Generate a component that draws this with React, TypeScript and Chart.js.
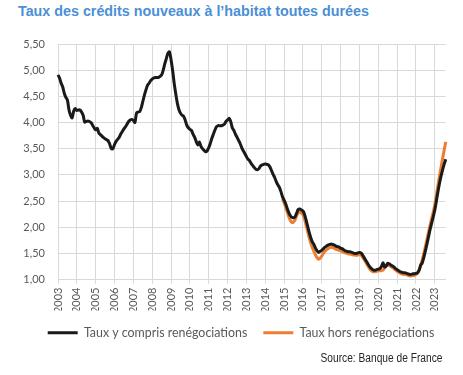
import { useEffect, useRef } from 'react';
import { Chart, registerables } from 'chart.js';

Chart.register(...registerables);

// Tick labels (one per January)
const years = [
  2003, 2004, 2005, 2006, 2007, 2008, 2009, 2010, 2011, 2012,
  2013, 2014, 2015, 2016, 2017, 2018, 2019, 2020, 2021, 2022, 2023,
];

// Taux y compris renégociations, monthly, Jan 2003 – Aug 2023 (%)
const tauxYCompris = [
  4.91, 4.85, 4.75, 4.68, 4.56, 4.48, 4.43, 4.24, 4.14, 4.09, 4.22, 4.27, // 2003
  4.23, 4.24, 4.24, 4.20, 4.14, 4.01, 4.02, 4.03, 4.02, 4.00, 3.95, 3.90, // 2004
  3.86, 3.89, 3.80, 3.77, 3.74, 3.71, 3.69, 3.67, 3.65, 3.58, 3.50, 3.50, // 2005
  3.58, 3.64, 3.68, 3.72, 3.78, 3.83, 3.88, 3.92, 3.97, 4.02, 4.05, 4.06, // 2006
  4.04, 4.00, 4.18, 4.20, 4.21, 4.28, 4.40, 4.52, 4.62, 4.71, 4.75, 4.80, // 2007
  4.83, 4.85, 4.86, 4.86, 4.86, 4.88, 4.91, 5.00, 5.12, 5.22, 5.32, 5.35, // 2008
  5.20, 5.00, 4.75, 4.55, 4.37, 4.25, 4.18, 4.14, 4.12, 4.05, 3.95, 3.90, // 2009
  3.87, 3.85, 3.78, 3.72, 3.64, 3.57, 3.63, 3.55, 3.50, 3.47, 3.44, 3.46, // 2010
  3.52, 3.60, 3.70, 3.78, 3.86, 3.92, 3.94, 3.94, 3.94, 3.95, 3.97, 4.02, // 2011
  4.05, 4.08, 4.02, 3.90, 3.85, 3.78, 3.72, 3.66, 3.60, 3.52, 3.46, 3.41, // 2012
  3.35, 3.30, 3.27, 3.22, 3.18, 3.14, 3.11, 3.10, 3.12, 3.17, 3.19, 3.20, // 2013
  3.21, 3.20, 3.19, 3.15, 3.08, 3.01, 2.95, 2.87, 2.81, 2.76, 2.68, 2.58, // 2014
  2.52, 2.45, 2.36, 2.28, 2.22, 2.19, 2.18, 2.20, 2.27, 2.34, 2.35, 2.33, // 2015
  2.31, 2.25, 2.14, 2.02, 1.90, 1.80, 1.72, 1.67, 1.60, 1.55, 1.52, 1.54, // 2016
  1.56, 1.59, 1.62, 1.64, 1.66, 1.67, 1.68, 1.67, 1.66, 1.64, 1.63, 1.62, // 2017
  1.60, 1.59, 1.57, 1.55, 1.54, 1.53, 1.53, 1.52, 1.51, 1.50, 1.50, 1.51, // 2018
  1.52, 1.51, 1.47, 1.42, 1.37, 1.32, 1.27, 1.23, 1.20, 1.18, 1.18, 1.19, // 2019
  1.20, 1.21, 1.25, 1.32, 1.24, 1.26, 1.31, 1.30, 1.28, 1.26, 1.24, 1.21, // 2020
  1.19, 1.17, 1.15, 1.14, 1.13, 1.13, 1.12, 1.11, 1.10, 1.10, 1.11, 1.11, // 2021
  1.12, 1.13, 1.18, 1.27, 1.32, 1.42, 1.55, 1.68, 1.82, 1.96, 2.08, 2.20, // 2022
  2.33, 2.50, 2.68, 2.84, 2.98, 3.10, 3.21, 3.30, // 2023
];

// Taux hors renégociations, monthly, Dec 2014 – Aug 2023 (%)
const horsStartIndex = 143;
const tauxHors = [
  2.54, // Dec 2014
  2.47, 2.38, 2.29, 2.20, 2.13, 2.09, 2.10, 2.14, 2.22, 2.28, 2.29, 2.27, // 2015
  2.24, 2.16, 2.04, 1.92, 1.80, 1.70, 1.61, 1.54, 1.47, 1.42, 1.39, 1.41, // 2016
  1.45, 1.50, 1.54, 1.57, 1.59, 1.61, 1.62, 1.61, 1.60, 1.58, 1.57, 1.56, // 2017
  1.55, 1.54, 1.52, 1.51, 1.50, 1.49, 1.49, 1.48, 1.47, 1.47, 1.46, 1.47, // 2018
  1.48, 1.47, 1.43, 1.38, 1.33, 1.28, 1.23, 1.19, 1.16, 1.15, 1.15, 1.16, // 2019
  1.17, 1.17, 1.17, 1.18, 1.22, 1.26, 1.28, 1.27, 1.25, 1.23, 1.21, 1.18, // 2020
  1.16, 1.14, 1.12, 1.11, 1.10, 1.10, 1.09, 1.08, 1.07, 1.07, 1.08, 1.08, // 2021
  1.10, 1.12, 1.18, 1.28, 1.38, 1.50, 1.63, 1.77, 1.91, 2.04, 2.17, 2.29, // 2022
  2.43, 2.61, 2.80, 2.98, 3.15, 3.32, 3.48, 3.63, // 2023
];

const seriesNames = ['Taux y compris renégociations', 'Taux hors renégociations'];
const seriesColors = ['#1a1a1a', '#ED7D31'];

const monthLabels = tauxYCompris.map(
  (_, i) => `${years[0] + Math.floor(i / 12)}-${String((i % 12) + 1).padStart(2, '0')}`
);
const horsData = monthLabels.map((_, i) =>
  i >= horsStartIndex ? tauxHors[i - horsStartIndex] : null
);

const GRID = '#d9d9d9';
const TEXT = '#595959';

const legendShift = {
  id: 'legendShift',
  afterLayout(chart: any) {
    const lg = chart.legend;
    if (lg) {
      lg.left += 14;
      lg.right += 14;
    }
  },
};

export default function App() {
  const ref = useRef<HTMLCanvasElement | null>(null);

  useEffect(() => {
    if (!ref.current) return;
    const chart = new Chart(ref.current, {
      type: 'line',
      data: {
        labels: monthLabels,
        datasets: [
          {
            label: seriesNames[0],
            data: tauxYCompris,
            borderColor: seriesColors[0],
            backgroundColor: seriesColors[0],
            borderWidth: 3,
            pointRadius: 0,
            tension: 0.3,
          },
          {
            label: seriesNames[1],
            data: horsData,
            borderColor: seriesColors[1],
            backgroundColor: seriesColors[1],
            borderWidth: 3,
            pointRadius: 0,
            tension: 0.3,
          },
        ],
      },
      plugins: [legendShift],
      options: {
        animation: false,
        responsive: false,
        events: [],
        layout: { padding: { left: 8, right: 17, top: 44, bottom: 26 } },
        plugins: {
          tooltip: { enabled: false },
          legend: {
            position: 'bottom',
            labels: {
              boxWidth: 30,
              boxHeight: 3,
              padding: 16,
              color: TEXT,
              font: { family: 'Lato', size: 12.4 },
              generateLabels: (c: any) =>
                Chart.defaults.plugins.legend.labels
                  .generateLabels(c)
                  .map((l: any) => ({ ...l, lineWidth: 0 })),
            },
          },
        },
        scales: {
          x: {
            type: 'category',
            grid: {
              color: (c: any) => (c.index % 12 === 0 ? GRID : 'rgba(0,0,0,0)'),
              tickLength: 4,
              drawTicks: true,
            },
            border: { color: GRID },
            ticks: {
              autoSkip: false,
              maxRotation: 90,
              minRotation: 90,
              padding: 4,
              color: TEXT,
              font: { family: 'Lato', size: 11 },
              callback: (_v: any, i: number) =>
                i % 12 === 0 ? String(years[i / 12]) : '',
            },
            afterFit: (s: any) => {
              s.height = 31;
            },
          },
          y: {
            min: 1,
            max: 5.5,
            grid: { color: GRID, drawTicks: false },
            border: { display: false },
            ticks: {
              stepSize: 0.5,
              padding: 13,
              color: TEXT,
              font: { family: 'Lato', size: 11 },
              callback: (v: any) => Number(v).toFixed(2).replace('.', ','),
            },
            afterFit: (s: any) => {
              s.width = 50;
            },
          },
        },
      },
    } as any);
    return () => chart.destroy();
  }, []);

  return (
    <div
      style={{
        position: 'absolute',
        left: 0,
        top: 0,
        width: 463,
        height: 375,
        background: '#fff',
        overflow: 'hidden',
      }}
    >
      <div
        style={{
          position: 'absolute',
          left: 18,
          top: 3,
          fontFamily: '"Liberation Sans Narrow", "Liberation Sans", sans-serif',
          fontWeight: 'bold',
          fontSize: 14.3,
          color: '#4a8fd6',
          whiteSpace: 'nowrap',
        }}
      >
        Taux des crédits nouveaux à l’habitat toutes durées
      </div>
      <canvas
        ref={ref}
        width={463}
        height={375}
        style={{ position: 'absolute', left: 0, top: 0 }}
      />
      <div
        style={{
          position: 'absolute',
          right: 21,
          top: 351,
          fontFamily: '"Liberation Sans Narrow", "Liberation Sans", sans-serif',
          fontSize: 12,
          color: '#262626',
          whiteSpace: 'nowrap',
          transform: 'scaleX(0.85)',
          transformOrigin: 'right center',
        }}
      >
        Source: Banque de France
      </div>
    </div>
  );
}
